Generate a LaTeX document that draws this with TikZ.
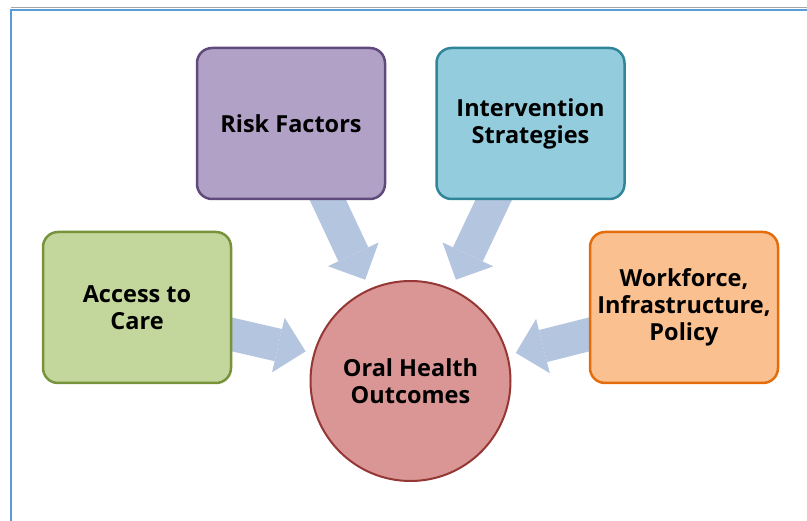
\documentclass[tikz,border=0pt]{standalone}
\usepackage{fontspec}
\setmainfont{Open Sans}
\usetikzlibrary{arrows.meta,calc,backgrounds}

\newlength{\du}
\setlength{\du}{1pt}

\definecolor{framecolor}{RGB}{91,155,213}
\definecolor{shadecolor}{RGB}{165,165,165}
\definecolor{arrowcolor}{RGB}{180,197,223}
\definecolor{riskfill}{RGB}{178,161,199}
\definecolor{riskline}{RGB}{96,74,123}
\definecolor{intervfill}{RGB}{147,205,221}
\definecolor{intervline}{RGB}{49,133,155}
\definecolor{accessfill}{RGB}{195,214,155}
\definecolor{accessline}{RGB}{119,147,60}
\definecolor{workfill}{RGB}{250,192,144}
\definecolor{workline}{RGB}{228,108,10}
\definecolor{outfill}{RGB}{217,150,148}
\definecolor{outline}{RGB}{149,55,53}

\tikzset{
  labelfont/.style={font=\fontsize{23.5}{27}\selectfont\bfseries, text=black},
  box/.style={draw, labelfont, line width=2.5\du, rounded corners=15\du,
    minimum width=188\du, minimum height=151\du, align=center},
  riskbox/.style={box, fill=riskfill, draw=riskline},
  intervbox/.style={box, fill=intervfill, draw=intervline},
  accessbox/.style={box, fill=accessfill, draw=accessline},
  workbox/.style={box, fill=workfill, draw=workline},
  outcome/.style={circle, labelfont, draw=outline, fill=outfill, line width=2\du,
    minimum size=200\du, inner sep=0pt, align=center},
  fatarrow/.style={draw=arrowcolor, line width=33\du, shorten <=-20\du,
    -{Triangle[width=56pt,length=28pt,line width=0pt]}}
}

\begin{document}
\begin{tikzpicture}
\pgftransformxscale{1.000000}
\pgftransformyscale{-1.000000}
\useasboundingbox (0\du,0\du) rectangle (807\du,521\du);
% frame
\draw[shadecolor, line width=1\du] (11.000000\du,8.000000\du)--(807.000000\du,8.000000\du);
\draw[framecolor, line width=2\du] (11.000000\du,560.000000\du)--(11.000000\du,10.500000\du)--(840.000000\du,10.500000\du);
% setfont left to latex
\node[riskbox] (risk) at (291.000000\du,123.500000\du){Risk Factors};
\node[intervbox] (interv) at (530.500000\du,123.500000\du){Intervention\\Strategies};
\node[accessbox] (access) at (137.000000\du,307.500000\du){Access to\\Care};
\node[workbox] (work) at (684.000000\du,307.500000\du){Workforce,\\Infrastructure,\\Policy};
\node[outcome] (out) at (410.500000\du,381.000000\du){Oral Health\\Outcomes};
\begin{pgfonlayer}{background}
\draw[fatarrow, shorten >=10\du] ($(risk.south)+(37\du,0\du)$)--(out.114);
\draw[fatarrow, shorten >=10\du] ($(interv.south)+(-37\du,0\du)$)--(out.66);
\draw[fatarrow, shorten >=8\du] ($(access.east)+(0\du,27\du)$)--(out.164.5);
\draw[fatarrow, shorten >=8\du] ($(work.west)+(0\du,27\du)$)--(out.15.5);
\end{pgfonlayer}
\end{tikzpicture}
\end{document}
